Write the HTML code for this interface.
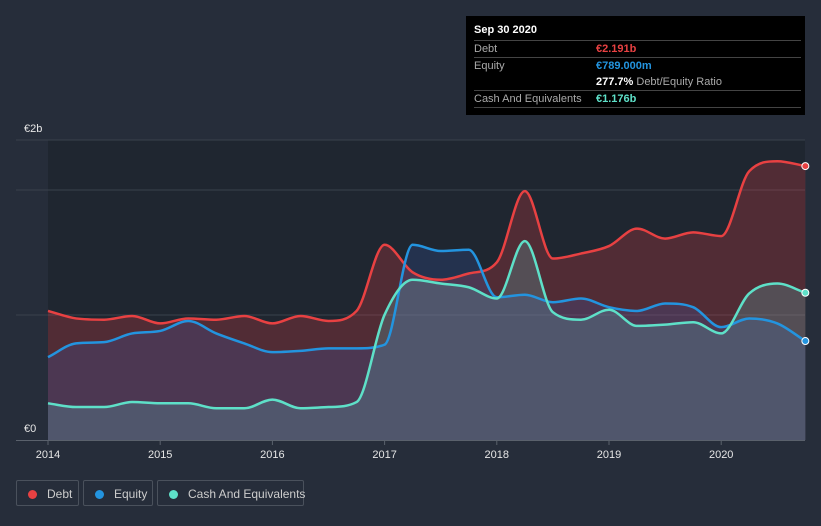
<!DOCTYPE html>
<html><head><meta charset="utf-8"><style>
body{margin:0;background:#262d3a;font-family:"Liberation Sans",sans-serif;}
#wrap{position:relative;width:821px;height:526px;overflow:hidden;background:#262d3a;}
svg{position:absolute;left:0;top:0;}
.tip{position:absolute;left:466px;top:16px;width:339px;height:99px;background:#000;color:#fff;font-size:11px;}
.row{position:absolute;left:8px;width:327px;border-top:1px solid #444;height:17px;line-height:17px;}
.lab{position:absolute;left:0;color:#aaa}
.val{position:absolute;left:122px;font-weight:bold;white-space:nowrap}
.leg{position:absolute;top:480px;height:26px;border:1px solid #4a515c;border-radius:2px;color:#ccc;font-size:12px;line-height:26px;box-sizing:border-box;white-space:nowrap}
.dot{display:inline-block;width:9px;height:9px;border-radius:50%;margin:0 10px 0 11px;vertical-align:-1px}
</style></head><body>
<div id="wrap">
<svg id="svg" width="821" height="526"></svg>
<div class="tip">
<div style="position:absolute;left:8px;top:8px;font-weight:bold">Sep 30 2020</div>
<div class="row" style="top:24px"><span class="lab">Debt</span><span class="val" style="color:#e84142">€2.191b</span></div>
<div class="row" style="top:41px"><span class="lab">Equity</span><span class="val" style="color:#2394df">€789.000m</span></div>
<div class="row" style="top:58px;border-top:none"><span class="val" style="color:#fff">277.7% <span style="color:#aaa;font-weight:normal">Debt/Equity Ratio</span></span></div>
<div class="row" style="top:74px"><span class="lab">Cash And Equivalents</span><span class="val" style="color:#5ee0c8">€1.176b</span></div>
<div class="row" style="top:91px;height:0"></div>
</div>
<div class="leg" style="left:16px;width:63px"><span class="dot" style="background:#e84142"></span>Debt</div>
<div class="leg" style="left:83px;width:70px"><span class="dot" style="background:#2394df"></span>Equity</div>
<div class="leg" style="left:157px;width:147px"><span class="dot" style="background:#5ee0c8"></span>Cash And Equivalents</div>
</div>
<script>
const dates=[2014,2014.25,2014.5,2014.75,2015,2015.25,2015.5,2015.75,2016,2016.25,2016.5,2016.75,2017,2017.25,2017.5,2017.75,2018,2018.25,2018.5,2018.75,2019,2019.25,2019.5,2019.75,2020,2020.25,2020.5,2020.75];
const debt=[1.03,0.97,0.96,0.99,0.93,0.97,0.96,0.99,0.93,0.99,0.95,1.03,1.56,1.34,1.28,1.33,1.42,1.99,1.45,1.49,1.55,1.69,1.61,1.66,1.63,2.15,2.23,2.191];
const equity=[0.66,0.77,0.78,0.85,0.87,0.95,0.85,0.77,0.70,0.71,0.73,0.73,0.76,1.56,1.51,1.52,1.14,1.16,1.10,1.13,1.06,1.03,1.09,1.06,0.90,0.97,0.93,0.789];
const cash=[0.29,0.26,0.26,0.30,0.29,0.29,0.25,0.25,0.32,0.25,0.26,0.30,1.00,1.28,1.25,1.22,1.13,1.59,1.02,0.96,1.04,0.91,0.92,0.94,0.85,1.17,1.25,1.176];
const yearTicks=[2014,2015,2016,2017,2018,2019,2020];
const yTickVals=[0,2];
const yTickLabels=["€0","€2b"];
const X=d=>48+(d-2014)*112.2;
const Y=v=>439.5-v*124.8;
const svg=document.getElementById('svg');const NS='http://www.w3.org/2000/svg';
function mk(t,a){const e=document.createElementNS(NS,t);for(const k in a)e.setAttribute(k,a[k]);svg.appendChild(e);return e;}
let e=mk('rect',{x:48,y:140,width:757,height:300,fill:'#1f2630'});


[140,190,315].forEach(y=>{const g=mk('line',{x1:16,x2:805,y1:y,y2:y,stroke:'#3a414c','stroke-width':1});

});
function path(vals){const p=dates.map((d,i)=>[X(d),Y(vals[i])]);const n=p.length;const m=[];const dl=[];
for(let i=0;i<n-1;i++)dl.push((p[i+1][1]-p[i][1])/(p[i+1][0]-p[i][0]));
for(let i=0;i<n;i++){if(i==0)m.push(dl[0]);else if(i==n-1)m.push(dl[n-2]);else m.push(dl[i-1]*dl[i]<=0?0:(dl[i-1]+dl[i])/2);}
for(let i=0;i<n-1;i++){if(dl[i]==0){m[i]=0;m[i+1]=0;continue;}const a=m[i]/dl[i],b=m[i+1]/dl[i],s=a*a+b*b;if(s>9){const t=3/Math.sqrt(s);m[i]=t*a*dl[i];m[i+1]=t*b*dl[i];}}
let s='M'+p[0][0]+','+p[0][1];for(let i=0;i<n-1;i++){const h=(p[i+1][0]-p[i][0])/3;s+=`C${p[i][0]+h},${p[i][1]+m[i]*h} ${p[i+1][0]-h},${p[i+1][1]-m[i+1]*h} ${p[i+1][0]},${p[i+1][1]}`;}return s;}
const series=[['debt',debt,'#e84142','rgba(232,65,66,0.25)'],['equity',equity,'#2394df','rgba(60,100,200,0.2)'],['cash',cash,'#5ee0c8','rgba(94,200,200,0.22)']];
series.forEach(([n,v,c,f])=>{const d=path(v);const a=mk('path',{d:d+`L${X(2020.75)},440L48,440Z`,fill:f});

});
series.forEach(([n,v,c])=>{const l=mk('path',{d:path(v),fill:'none',stroke:c,'stroke-width':2.5});


const last=v.length-1;const dt=mk('circle',{cx:X(dates[last]),cy:Y(v[last]),r:3.5,fill:c,stroke:'#fff','stroke-width':1});

});
const ax=mk('line',{x1:16,x2:805,y1:440.5,y2:440.5,stroke:'#5a616c','stroke-width':1});


yearTicks.forEach(yr=>{const t=mk('line',{x1:X(yr),x2:X(yr),y1:440,y2:445,stroke:'#5a616c'});


const tx=mk('text',{x:X(yr),y:458,'text-anchor':'middle',fill:'#e6e6e6','font-size':11,'font-family':'Liberation Sans'});tx.textContent=yr;

});
const yPos=[432,132];
yTickVals.forEach((v,i)=>{const tx=mk('text',{x:24,y:yPos[i],fill:'#e6e6e6','font-size':11,'font-family':'Liberation Sans'});tx.textContent=yTickLabels[i];

});
</script>
</body></html>
